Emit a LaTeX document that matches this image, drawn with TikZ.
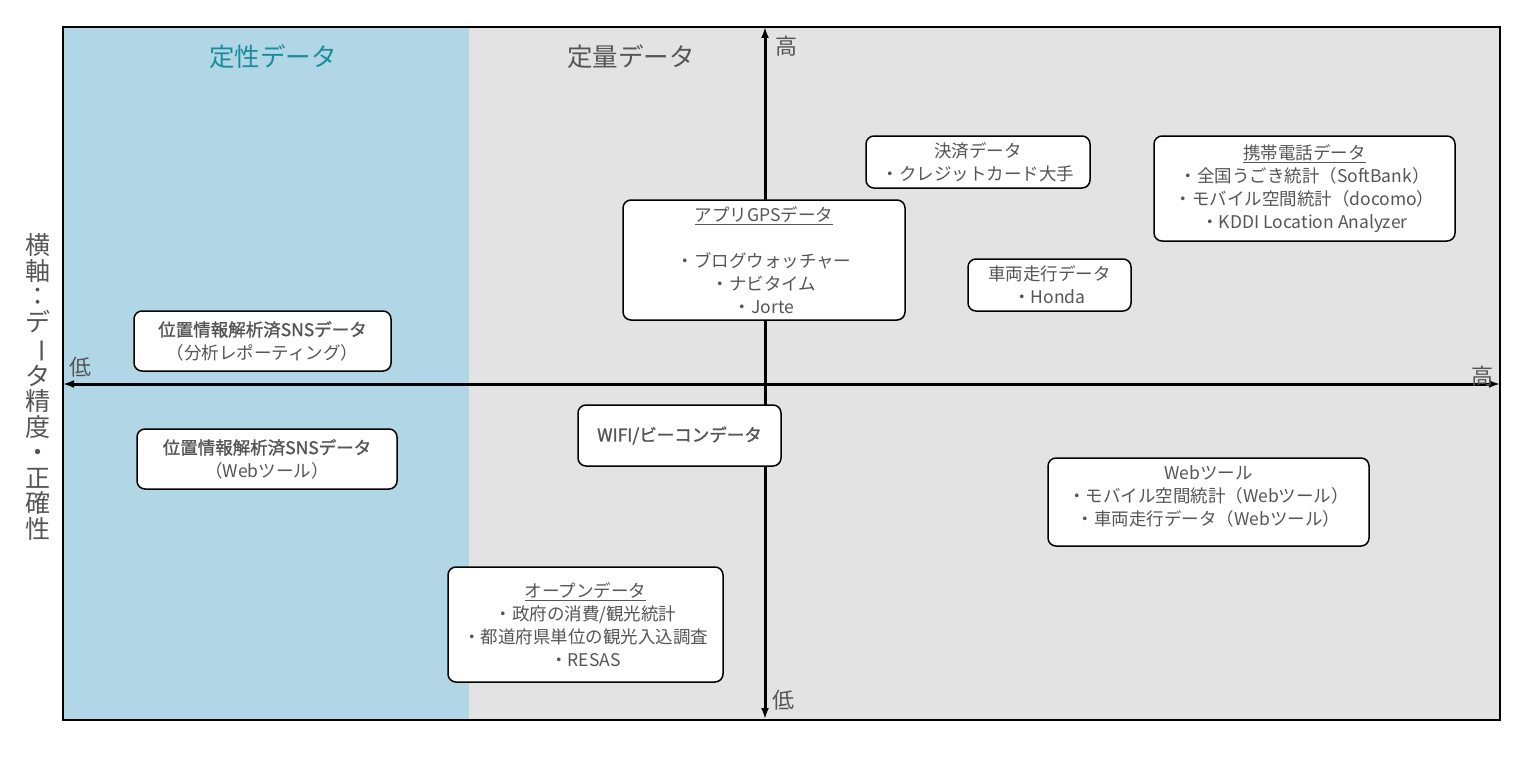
\documentclass[tikz,border=0pt]{standalone}
\usepackage{fontspec}
\usepackage{graphicx}
\newfontfamily\jp{Noto Sans CJK JP}
\newfontfamily\jpsb{Noto Sans CJK JP}[BoldFont={Noto Sans CJK JP},BoldFeatures={FakeBold=1.3}]
\usetikzlibrary{arrows.meta}
\definecolor{txtgray}{HTML}{555555}
\definecolor{qualblue}{HTML}{B1D7E7}
\definecolor{quantgray}{HTML}{E3E3E3}
\definecolor{tealtxt}{HTML}{1A8C9C}
\tikzset{
  databox/.style={draw=black, line width=1.5pt, rounded corners=8pt, fill=white,
    text=txtgray, align=center, inner sep=0pt,
    font=\jp\fontsize{17.5}{23}\selectfont},
  boxtext/.style={text=txtgray, align=center, inner sep=0pt,
    font=\jp\fontsize{17.5}{23}\selectfont},
  axis/.style={line width=3pt, {Latex[length=11pt,width=8pt]}-{Latex[length=11pt,width=8pt]}},
  axislabel/.style={text=txtgray, inner sep=0pt, font=\jp\fontsize{22}{24}\selectfont},
  title/.style={inner sep=0pt, font=\jp\fontsize{25.5}{27}\selectfont},
}
\begin{document}
\begin{tikzpicture}[x=1pt,y=-1pt]
\useasboundingbox (0,0) rectangle (1534,760);
% background regions
\fill[quantgray] (469,27) rectangle (1500,720);
\fill[qualblue] (63,27) rectangle (469,720);
\draw[line width=1.5pt] (63,27) rectangle (1500,720);
% titles
\node[title, text=tealtxt] (qual) at (273,57) {定性データ};
\node[title, text=txtgray] (quant) at (631,57) {定量データ};
% axes
\coordinate (xl) at (63,384);
\coordinate (xr) at (1500,384);
\coordinate (yt) at (765,27);
\coordinate (yb) at (765,719);
\draw[axis] (xl) -- (xr);
\draw[axis] (yt) -- (yb);
\node[axislabel] (yhigh) at (786,46) {高};
\node[axislabel] (ylow) at (783,700) {低};
\node[axislabel] (xlow) at (80,367) {低};
\node[axislabel] (xhigh) at (1482,376) {高};
% vertical side label
\node[text=txtgray, align=center, inner sep=0pt, font=\jp\fontsize{25}{25.5}\selectfont] (side) at (38,387)
  {横\\軸\\：\\デ\\\rotatebox[origin=c]{-90}{ー}\\タ\\精\\度\\・\\正\\確\\性};
% boxes
\node[databox, minimum width=257pt, minimum height=60pt] (sns1) at (262.5,341)
  {{\jpsb\bfseries 位置情報解析済SNSデータ}\\（分析レポーティング）};
\node[databox, minimum width=260pt, minimum height=60pt] (sns2) at (267,459)
  {{\jpsb\bfseries 位置情報解析済SNSデータ}\\（Webツール）};
\node[databox, minimum width=282pt, minimum height=120pt] (gps) at (764,260)
  {\underline{アプリGPSデータ}\\[23pt]・ブログウォッチャー\\・ナビタイム\\・Jorte};
\node[databox, minimum width=224pt, minimum height=52pt] (pay) at (978,162)
  {決済データ\\・クレジットカード大手};
\node[databox, minimum width=301pt, minimum height=105pt] (mobile) at (1304.5,188.5)
  {\underline{携帯電話データ}\\・全国うごき統計（SoftBank）\\・モバイル空間統計（docomo）\\・KDDI Location Analyzer};
\node[databox, minimum width=163pt, minimum height=52pt] (car) at (1049.5,285)
  {車両走行データ\\・Honda};
\node[databox, minimum width=203pt, minimum height=61pt] (wifi) at (679.5,435.5)
  {{\jpsb\bfseries WIFI/ビーコンデータ}};
\node[databox, minimum width=275pt, minimum height=115pt] (open) at (585.5,624.5)
  {\underline{オープンデータ}\\・政府の消費/観光統計\\・都道府県単位の観光入込調査\\・RESAS};
\node[databox, minimum width=321pt, minimum height=88pt] (web) at (1208.5,502) {};
\node[boxtext] (webtext) at (1208.5,496)
  {Webツール\\・モバイル空間統計（Webツール）\\・車両走行データ（Webツール）};
\end{tikzpicture}
\end{document}
